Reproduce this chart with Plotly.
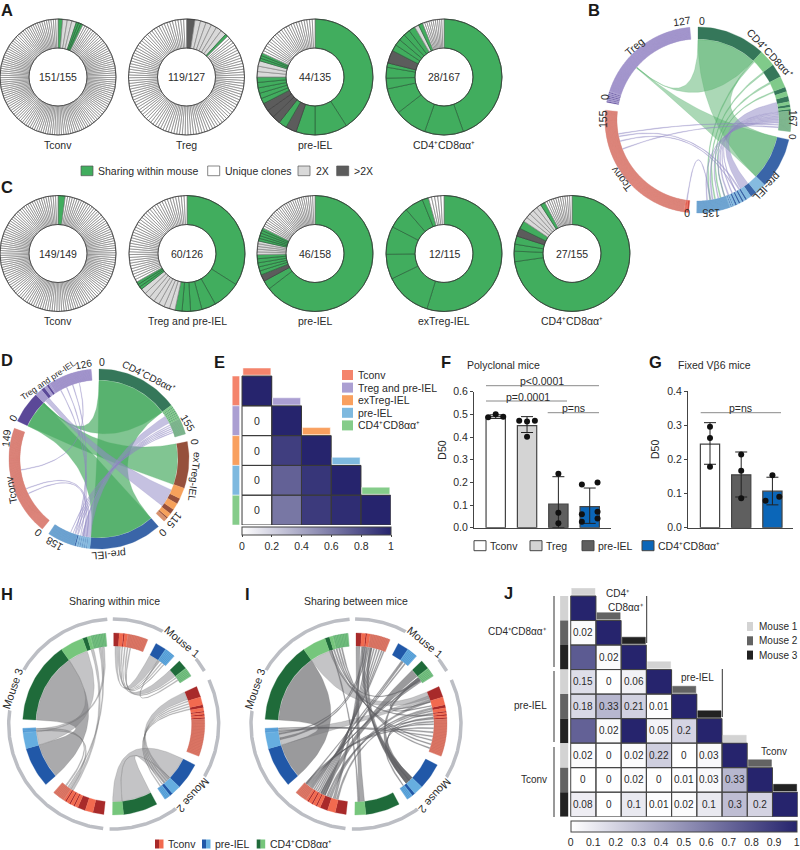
import numpy as np
import plotly.graph_objects as go

W, H = 800, 850
FONT = "Liberation Sans"
TXT = "#2a2a2a"
CD4_LABEL = "CD4⁺CD8αα⁺"

# ---- donuts: (kind, clone size, number of slices)
A_TCONV = [("s", 2, 1), ("x", 2, 3), ("s", 1, 3), ("u", 1, 144)]
A_TREG = [("d", 3, 1), ("x", 2, 6), ("s", 1, 1), ("u", 1, 111)]
A_PREIEL = [("s", 54, 1), ("s", 12, 1), ("s", 7, 1), ("d", 4, 1), ("s", 3, 1), ("d", 3, 3),
            ("s", 2, 5), ("x", 2, 3), ("s", 1, 3), ("u", 1, 24)]
A_CD4 = [("s", 74, 1), ("s", 18, 1), ("s", 15, 1), ("s", 12, 1), ("s", 5, 1), ("s", 5, 1), ("s", 2, 1),
         ("d", 6, 1), ("s", 3, 5), ("x", 2, 1), ("s", 2, 1), ("u", 1, 10)]
C_TCONV = [("s", 3, 1), ("u", 1, 146)]
C_TREG_PRE = [("s", 43, 1), ("s", 10, 1), ("s", 5, 1), ("s", 4, 1), ("s", 3, 1), ("s", 2.5, 1),
              ("x", 2, 7), ("s", 1, 3), ("u", 1, 42)]
C_PREIEL = [("s", 102, 1), ("s", 4, 1), ("d", 3, 1), ("s", 1.8, 5), ("x", 1.2, 5), ("s", 1.2, 5), ("u", 1, 28)]
C_EXTREG = [("s", 63, 1), ("s", 15, 1), ("s", 8, 1), ("s", 9, 1), ("s", 7, 1), ("s", 6, 1), ("s", 2, 1), ("u", 1, 5)]
C_CD4 = [("s", 112, 1), ("s", 4.5, 1), ("s", 3, 1), ("s", 3.5, 1), ("d", 3.5, 1), ("s", 3.5, 1),
         ("x", 2, 5), ("s", 2, 1), ("u", 1, 12)]
DONUT_COLORS = {"s": "#41ad5e", "x": "#d9d9d9", "d": "#5c5c5c", "u": "#ffffff"}
DONUT_LINES = {"s": "#2f6b40", "x": "#8f8f8f", "d": "#444444", "u": "#8c8c8c"}

DONUT_ROW_A = [(A_TCONV, "151/155", "Tconv"), (A_TREG, "119/127", "Treg"),
               (A_PREIEL, "44/135", "pre-IEL"), (A_CD4, "28/167", CD4_LABEL)]
DONUT_ROW_C = [(C_TCONV, "149/149", "Tconv"), (C_TREG_PRE, "60/126", "Treg and pre-IEL"),
               (C_PREIEL, "46/158", "pre-IEL"), (C_EXTREG, "12/115", "exTreg-IEL"), (C_CD4, "27/155", CD4_LABEL)]

# ---- chord B: sectors CD4, pre-IEL, Tconv, Treg
B_SIZES = [167, 135, 155, 127]
B_SEGS = [
    [("d", 74), ("l", 18), ("d", 15), ("l", 12), ("d", 5), ("l", 5), ("d", 6), ("l", 3), ("d", 3), ("l", 2), ("d", 2), ("s", 22)],
    [("d", 55), ("l", 12), ("d", 7), ("l", 5), ("d", 2), ("l", 2), ("d", 2), ("l", 2), ("d", 2), ("l", 2), ("d", 2), ("l", 2),
     ("d", 1), ("l", 1), ("d", 1), ("l", 1), ("s", 36)],
    [("d", 2), ("l", 1), ("d", 1), ("l", 1), ("s", 150)],
    [("d", 1), ("l", 1), ("d", 1), ("l", 1), ("d", 1), ("l", 1), ("d", 1), ("l", 1), ("d", 1), ("l", 1), ("d", 1), ("l", 1), ("s", 115)],
]
B_GREEN = [(0, 0, 74, 1, 0, 55), (0, 0, 74, 3, 50, 1), (3, 50, 1, 1, 0, 55),
           (0, 74, 2, 1, 118, 1.5), (0, 92, 2, 1, 112, 1.5), (0, 107, 2, 1, 105, 1.5), (0, 119, 1.5, 1, 100, 1)]
B_PURPLE = [(0, 133, 12, 1, 68, 11), (0, 145, 1.5, 1, 85, 1), (0, 147, 1.5, 1, 90, 1), (0, 149, 1.5, 1, 95, 1.5),
            (0, 151, 1.5, 1, 100, 1), (0, 153, 1.5, 1, 108, 1), (0, 155, 1.5, 1, 115, 1.5), (0, 157, 1.5, 1, 122, 1),
            (2, 127, 1, 0, 160, 1), (2, 124, 1, 1, 80, 1.5), (2, 118, 1, 1, 85, 1), (2, 108, 1, 0, 163, 1), (2, 3, 1, 1, 118, 1)]

# ---- chord D: sectors CD4, exTreg-IEL, pre-IEL, Tconv, Treg and pre-IEL
D_SIZES = [155, 115, 158, 149, 126]
D_SEGS = [
    [("d", 112), ("l", 3), ("d", 1), ("l", 2), ("d", 1), ("l", 2), ("d", 1), ("l", 2), ("d", 1), ("l", 2), ("d", 1), ("l", 2), ("d", 1), ("l", 2), ("s", 22)],
    [("d", 63), ("l", 15), ("d", 8), ("l", 9), ("d", 7), ("l", 6), ("d", 2), ("s", 5)],
    [("d", 99), ("l", 4), ("d", 1), ("l", 2), ("d", 1), ("l", 2), ("d", 1), ("l", 2), ("d", 1), ("l", 2), ("d", 1), ("l", 2), ("d", 2), ("s", 38)],
    [("s", 149)],
    [("d", 43), ("l", 10), ("d", 5), ("l", 4), ("d", 3), ("l", 2), ("s", 59)],
]
D_GREEN = [(0, 0, 112, 2, 0, 99), (4, 0, 43, 1, 0, 63), (4, 0, 43, 2, 0, 99), (4, 40, 3, 0, 0, 112)]
D_PURPLE = [(4, 47, 7, 1, 72, 28), (0, 120, 12, 2, 100, 12), (0, 135, 1, 2, 112, 1), (0, 138, 1, 2, 118, 1), (0, 141, 1, 2, 122, 1),
            (0, 144, 1, 2, 126, 1), (0, 147, 1, 2, 130, 1), (4, 75, 1, 2, 115, 1), (4, 85, 1, 2, 120, 1), (4, 95, 1, 2, 124, 1),
            (3, 90, 1, 4, 105, 1), (3, 60, 1, 2, 105, 1), (3, 52, 1, 2, 110, 1)]

# ---- chords H and I: Tconv, pre-IEL, CD4 for each of mouse 1, 2, 3
M_SIZES = [22, 14, 12, 45, 29, 29, 35, 39, 82]
M_GAPS = [5.7, 4.5, 7.5, 6, 6, 5.5, 7, 5.7, 5]
M_SEGS = [
    [("d", 3.5), ("l", 2.5), ("d", 1), ("l", 2), ("s", 13)],
    [("d", 7), ("s", 7)],
    [("d", 6), ("s", 6)],
    [("d", 7), ("l", 5), ("d", 2), ("l", 2), ("d", 1), ("l", 1), ("d", 1), ("l", 1), ("d", 1), ("s", 24)],
    [("d", 17), ("l", 6), ("d", 2), ("s", 4)],
    [("d", 22), ("l", 7)],
    [("d", 7), ("l", 5), ("d", 5), ("l", 2), ("d", 1), ("l", 2), ("d", 1), ("l", 2), ("d", 1), ("l", 1), ("s", 8)],
    [("d", 26), ("l", 10), ("s", 3)],
    [("d", 52), ("l", 15), ("d", 3), ("l", 2), ("s", 10)],
]
M_RINGS = [(0, 2), (3, 5), (6, 8)]
H_WIDE = [(8, 0, 52, 7, 0, 26)]
H_LINKS = [(8, 52, 15, 7, 26, 10), (6, 25, 2, 8, 70, 2), (6, 27, 1.5, 7, 36, 1), (6, 29, 1, 8, 76, 1.5),
           (6, 31, 1, 7, 37.5, 1), (8, 78, 2, 7, 36, 2),
           (4, 0, 17, 5, 22, 7), (5, 0, 22, 4, 17, 6), (3, 0, 6, 4, 17, 2), (3, 7, .7, 4, 20, .7), (3, 9, .7, 4, 22, .7),
           (3, 11, .7, 4, 24, .7), (3, 13, .7, 4, 26, .7),
           (1, 0, 7, 0, 1, 2), (2, 0, 6, 0, 3.5, 1.5), (0, 6, .7, 1, 8, .7), (0, 8, .7, 1, 10, .7), (0, 10, .7, 2, 7, .7),
           (0, 12, .7, 1, 12, .7), (1, 7, .8, 2, 9, .8)]
I_WIDE = [(8, 0, 52, 7, 0, 26), (2, 0, 6, 6, 17, 4), (4, 17, 6, 0, 10, 2), (4, 17, 6, 2, 7, 2)]
I_MID = [(8, 52, 15, 3, 0, 5), (7, 26, 10, 3, 3, 3)]
I_THIN = [(6, 17, .8, 0, 9, .8), (6, 18.5, .8, 0, 11, .8), (6, 20, .8, 0, 13, .8), (6, 21.5, .8, 0, 15, .8), (6, 23, .8, 0, 17, .8),
          (6, 24.5, .8, 0, 19, .8), (6, 26, .8, 0, 20.5, .8), (6, 27.5, .8, 1, 9, .8), (6, 28.5, .8, 1, 11, .8), (6, 29.5, .8, 2, 7, .8),
          (6, 30.5, .8, 2, 9, .8), (6, 31.5, .8, 3, 20, .8), (6, 32.5, .8, 3, 24, .8), (6, 33.5, .8, 3, 27, .8), (6, 12, 2, 3, 6, 2),
          (6, 14.5, 1.5, 3, 12, 1.5), (6, 9, 2, 0, 4, 1.5), (6, 7, 1.5, 3, 14, 1), (7, 36, 1.5, 3, 30, 1), (7, 38, .8, 3, 33, .8),
          (8, 67, 2, 3, 17, 1), (8, 72, 1, 3, 36, .8), (8, 74, 1, 3, 39, .8), (8, 76, 1, 3, 42, .8), (3, 16, 1, 4, 19, 1),
          (3, 19, 1, 4, 22, 1), (3, 22, 1, 4, 25, 1), (0, 5, 1.5, 4, 17, 3), (0, 7, 1, 4, 20, 2), (2, 8, 1, 3, 7, 1), (2, 10, 1, 3, 10, 1),
          (5, 22, 4, 0, 0, 3), (5, 26, 1, 8, 68, 1), (0, 8, .8, 7, 30, 1.5), (1, 8, 1, 6, 33, 1), (2, 9, 1, 8, 70, 1), (7, 34, 1, 0, 6, 1)]

# ---- chord palettes: dark, light, stripe fill, stripe line
PAL_CD4 = ("#35775a", "#80ca8a", "#8fc79a", "#6fa883")
PAL_PRE = ("#3a65a8", "#85bbe0", "#7fb3da", "#5f97c7")
PAL_TCONV = ("#d04a42", "#ee6c5a", "#e58f85", "#d27a70")
PAL_TREG = ("#5b4898", "#a79bcf", "#ac9fd3", "#9a8dc4")
PAL_EXTREG = ("#96503c", "#f6a15b", "#e8a27c", "#c9805f")
PAL_M_T = ("#a82a2a", "#f26a4f", "#e07a68", "#c9655a")
PAL_M_P = ("#2158a8", "#66aee0", "#66aee0", "#3f86c6")
PAL_M_C = ("#1f6b3a", "#76c67c", "#7ec886", "#4f9c65")

# ---- bars F and G
F_MEANS = [0.49, 0.45, 0.104, 0.093]
F_ERR_UP = [0.008, 0.04, 0.121, 0.082]
F_ERR_DOWN = [0.008, 0.03, 0.104, 0.074]
F_DOT_X = [-0.24, 0, 0.24, -0.25, 0, 0.25, 0, 0, 0, 0, -0.25, 0.25, -0.25, 0.25, 0.25, -0.25]
F_DOT_Y = [0.487, 0.5, 0.489, 0.472, 0.468, 0.472, 0.401, 0.238, 0.066, 0.02, 0.191, 0.199, 0.059, 0.07, 0.041, 0.026]
F_DOT_GROUP = [0, 0, 0, 1, 1, 1, 1, 2, 2, 2, 3, 3, 3, 3, 3, 3]
G_MEANS = [0.245, 0.155, 0.107]
G_ERR_UP = [0.063, 0.067, 0.041]
G_ERR_DOWN = [0.059, 0.065, 0.04]
G_DOT_X = [0, 0, 0, 1, 1, 1, 2, 1.78, 2.22]
G_DOT_Y = [0.296, 0.263, 0.179, 0.215, 0.167, 0.086, 0.154, 0.079, 0.091]
BAR_COLORS = ["#ffffff", "#d4d4d4", "#5f5f5f", "#0b66b8"]
G_BAR_COLORS = ["#ffffff", "#5f5f5f", "#0b66b8"]

# ---- heatmaps E and J
E_Z = [[1, None, None, None, None],
       [0, 1, None, None, None],
       [0, 0.88, 1, None, None],
       [0, 0.72, 0.92, 1, None],
       [0, 0.62, 0.9, 0.96, 1]]
E_NAMES = ["Tconv", "Treg and pre-IEL", "exTreg-IEL", "pre-IEL", CD4_LABEL]
E_COLORS = ["#f4846c", "#ab9fd2", "#f9a05f", "#7eb9df", "#85cc8a"]
J_Z = [[1, None, None, None, None, None, None, None, None],
       [0.02, 1, None, None, None, None, None, None, None],
       [0.75, 0.02, 1, None, None, None, None, None, None],
       [0.15, 0, 0.06, 1, None, None, None, None, None],
       [0.18, 0.33, 0.21, 0.01, 1, None, None, None, None],
       [0.72, 0.02, 1, 0.05, 0.2, 1, None, None, None],
       [0.02, 0, 0.02, 0.22, 0, 0.03, 1, None, None],
       [0, 0, 0.02, 0, 0.01, 0.03, 0.33, 1, None],
       [0.08, 0, 0.1, 0.01, 0.02, 0.1, 0.3, 0.2, 1]]
MOUSE_COLORS = ["#d3d3d3", "#636363", "#222222"]
HEAT_SCALE = [[0, "#ffffff"], [1, "#26246d"]]

fig = go.Figure()
annotations = []
shapes = []


def txt(x, y, text, size=10.5, angle=0, anchor="center", color=TXT, font=FONT, bg=None, xref="x", yref="y", weight=None):
    annotations.append(dict(x=x, y=y, xref=xref, yref=yref, text=text, showarrow=False, textangle=angle, xanchor=anchor,
                            yanchor="middle", font=dict(size=size, color=color, family=font, weight=weight), bgcolor=bg, borderpad=0))


def rect(x0, y0, x1, y1, fill, line="#444444", width=1, xref="x", yref="y"):
    shapes.append(dict(type="rect", x0=x0, y0=y0, x1=x1, y1=y1, xref=xref, yref=yref, fillcolor=fill,
                       line=dict(color=line, width=width)))


def seg(x0, y0, x1, y1, color="#333333", width=1):
    shapes.append(dict(type="line", x0=x0, x1=x1, y0=y0, y1=y1, xref="x", yref="y", line=dict(color=color, width=width)))


def dom_x(x0, x1):
    return [x0 / W, x1 / W]


def dom_y(y0, y1):
    return [1 - y1 / H, 1 - y0 / H]


def donut(spec, cx, cy, r, centre, label, label_y):
    values, colors, lines = [], [], []
    for kind, size, n in spec:
        values += [size] * n
        colors += [DONUT_COLORS[kind]] * n
        lines += [DONUT_LINES[kind]] * n
    fig.add_trace(go.Pie(values=values, hole=0.5, sort=False, direction="clockwise", rotation=0, textinfo="none",
                         hoverinfo="skip", showlegend=False, marker=dict(colors=colors, line=dict(color=lines, width=0.8)),
                         domain=dict(x=dom_x(cx - r, cx + r), y=dom_y(cy - r, cy + r))))
    for rad in (r, r / 2):
        shapes.append(dict(type="circle", x0=cx - rad, x1=cx + rad, y0=cy - rad, y1=cy + rad, xref="x", yref="y",
                           line=dict(color="#3a3a3a", width=0.8)))
    txt(cx, cy, centre, size=10.5)
    txt(cx, label_y, label, size=10.5)


def polar(cx, cy, r, deg):
    t = np.radians(deg)
    return cx + r * np.sin(t), cy - r * np.cos(t)


class Chord:
    def __init__(self, cx, cy, r_out, r_in, sizes, gaps):
        self.cx, self.cy, self.r_out, self.r_in = cx, cy, r_out, r_in
        self.k = (360 - sum(gaps)) / sum(sizes)
        self.starts = []
        a = 0
        for s, g in zip(sizes, gaps):
            self.starts.append(a)
            a += s * self.k + g
        self.sizes = sizes

    def angle(self, sector, offset):
        return self.starts[sector] + offset * self.k

    def bands(self, segs, palettes):
        groups = {}
        for i, seg_list in enumerate(segs):
            pos = 0
            for kind, size in seg_list:
                pieces = [1] * int(round(size)) if kind == "s" else [size]
                for p in pieces:
                    a0, a1 = self.angle(i, pos), self.angle(i, pos + p)
                    ts = np.linspace(a0, a1, max(2, int((a1 - a0) / 2) + 2))
                    xo, yo = polar(self.cx, self.cy, self.r_out, ts)
                    xi, yi = polar(self.cx, self.cy, self.r_in, ts[::-1])
                    pal = palettes[i]
                    key = {"d": (pal[0], pal[0]), "l": (pal[1], pal[1]), "s": (pal[2], pal[3])}[kind]
                    gx, gy = groups.setdefault(key, ([], []))
                    gx += list(xo) + list(xi) + [xo[0], None]
                    gy += list(yo) + list(yi) + [yo[0], None]
                    pos += p
        for (fill, line), (gx, gy) in groups.items():
            fig.add_trace(go.Scatter(x=gx, y=gy, mode="lines", fill="toself", fillcolor=fill, hoverinfo="skip",
                                     line=dict(color=line, width=0.3), showlegend=False))

    def ribbon(self, link, fill, line):
        a, ao, aw, b, bo, bw = link
        r = self.r_in - 0.5
        a0, a1 = self.angle(a, ao), self.angle(a, ao + aw)
        b0, b1 = self.angle(b, bo), self.angle(b, bo + bw)
        t = np.linspace(0, 1, 40)

        def curve(d0, d1):
            x0, y0 = polar(self.cx, self.cy, r, d0)
            x1, y1 = polar(self.cx, self.cy, r, d1)
            return ((1 - t) ** 2 * x0 + 2 * t * (1 - t) * self.cx + t ** 2 * x1,
                    (1 - t) ** 2 * y0 + 2 * t * (1 - t) * self.cy + t ** 2 * y1)

        ta = np.linspace(a0, a1, max(2, int(a1 - a0) + 2))
        tb = np.linspace(b0, b1, max(2, int(b1 - b0) + 2))
        xa, ya = polar(self.cx, self.cy, r, ta)
        xb, yb = polar(self.cx, self.cy, r, tb)
        c1x, c1y = curve(a1, b0)
        c2x, c2y = curve(b1, a0)
        xs = np.concatenate([xa, c1x, xb, c2x])
        ys = np.concatenate([ya, c1y, yb, c2y])
        fig.add_trace(go.Scatter(x=xs, y=ys, mode="lines", fill="toself", fillcolor=fill, hoverinfo="skip",
                                 line=dict(color=line, width=0.4), showlegend=False))

    def ring(self, spans, radius, color="#bcbec4", width=3.5):
        for s0, s1 in spans:
            a0 = self.angle(s0, 0) - 0.5
            a1 = self.angle(s1, self.sizes[s1]) + 1.5
            ts = np.linspace(a0, a1, 160)
            x, y = polar(self.cx, self.cy, radius, ts)
            fig.add_trace(go.Scatter(x=x, y=y, mode="lines", hoverinfo="skip", showlegend=False,
                                     line=dict(color=color, width=width)))


# ---- canvas axis covering the page, used for chords and labels
GREEN_FILL, GREEN_LINE = "rgba(88,178,110,0.5)", "rgba(88,178,110,0.6)"
GREEN_DEEP = "rgba(70,170,95,0.68)"
PURPLE_FILL, PURPLE_LINE = "rgba(150,142,200,0.55)", "rgba(140,132,190,0.6)"
GREY_FILL, GREY_LINE = "rgba(125,125,128,0.45)", "rgba(110,110,112,0.55)"
GREY_DEEP = "rgba(115,115,118,0.72)"

b = Chord(698, 120, 93, 81, B_SIZES, [5, 5, 5, 5])
b.bands(B_SEGS, [PAL_CD4, PAL_PRE, PAL_TCONV, PAL_TREG])
for link in B_GREEN:
    b.ribbon(link, GREEN_FILL, GREEN_LINE)
for link in B_PURPLE:
    b.ribbon(link, PURPLE_FILL, PURPLE_LINE)

d = Chord(99, 459, 90, 79, D_SIZES, [5, 5, 5, 5, 5])
d.bands(D_SEGS, [PAL_CD4, PAL_EXTREG, PAL_PRE, PAL_TCONV, PAL_TREG])
for link in D_GREEN:
    d.ribbon(link, GREEN_DEEP, GREEN_LINE)
for link in D_PURPLE:
    d.ribbon(link, PURPLE_FILL, PURPLE_LINE)

M_PALS = [PAL_M_T, PAL_M_P, PAL_M_C] * 3
h = Chord(113.7, 724, 91, 78, M_SIZES, M_GAPS)
h.ring(M_RINGS, 105)
h.bands(M_SEGS, M_PALS)
for link in H_WIDE:
    h.ribbon(link, "rgba(125,125,128,0.65)", GREY_LINE)
for link in H_LINKS:
    h.ribbon(link, GREY_FILL, GREY_LINE)

i_c = Chord(356, 724, 91, 78, M_SIZES, M_GAPS)
i_c.ring(M_RINGS, 105)
i_c.bands(M_SEGS, M_PALS)
for link in I_WIDE:
    i_c.ribbon(link, GREY_DEEP, GREY_LINE)
for link in I_MID:
    i_c.ribbon(link, GREY_FILL, GREY_LINE)
for link in I_THIN:
    i_c.ribbon(link, "rgba(95,95,98,0.55)", "rgba(95,95,98,0.6)")

# ---- donuts
for (spec, centre, label), cx in zip(DONUT_ROW_A, [58, 186.5, 315, 444]):
    donut(spec, cx, 77, 58, centre, label, 145)
for (spec, centre, label), cx in zip(DONUT_ROW_C, [58, 187, 315, 444, 572]):
    donut(spec, cx, 253.5, 58, centre, label, 321)

# ---- F and G bars
fig.add_trace(go.Bar(x=list(range(4)), y=F_MEANS, width=0.617, xaxis="x2", yaxis="y2", hoverinfo="skip", showlegend=False,
                     marker=dict(color=BAR_COLORS, line=dict(color="#444444", width=1.2)),
                     error_y=dict(type="data", array=F_ERR_UP, arrayminus=F_ERR_DOWN, color="#222222", thickness=1, width=6)))
fig.add_trace(go.Scatter(x=[g + dx for g, dx in zip(F_DOT_GROUP, F_DOT_X)], y=F_DOT_Y, mode="markers", xaxis="x2", yaxis="y2",
                         hoverinfo="skip", showlegend=False, cliponaxis=False, marker=dict(color="#111111", size=6)))
fig.add_trace(go.Bar(x=list(range(3)), y=G_MEANS, width=0.617, xaxis="x3", yaxis="y3", hoverinfo="skip", showlegend=False,
                     marker=dict(color=G_BAR_COLORS, line=dict(color="#444444", width=1.2)),
                     error_y=dict(type="data", array=G_ERR_UP, arrayminus=G_ERR_DOWN, color="#222222", thickness=1, width=6)))
fig.add_trace(go.Scatter(x=G_DOT_X, y=G_DOT_Y, mode="markers", xaxis="x3", yaxis="y3", hoverinfo="skip", showlegend=False,
                         cliponaxis=False, marker=dict(color="#111111", size=6)))
# significance brackets
for x0, x1, y in [(486, 599, 385.7), (486, 567, 401), (547.7, 599, 412.7), (700.7, 781, 412.7)]:
    seg(x0, y, x1, y, color="#8a8a8a")

# ---- E and J heatmaps
fig.add_trace(go.Heatmap(z=E_Z, x=list(range(5)), y=list(range(5)), xaxis="x4", yaxis="y4", colorscale=HEAT_SCALE, zmin=0, zmax=1,
                         hoverinfo="skip",
                         colorbar=dict(orientation="h", x=242 / W, xanchor="left", y=1 - 527 / H, yanchor="top", len=148.7, lenmode="pixels",
                                       thickness=8, thicknessmode="pixels", xpad=0, ypad=0, tickvals=[0, 0.2, 0.4, 0.6, 0.8, 1],
                                       ticktext=["0", "0.2", "0.4", "0.6", "0.8", "1"], ticks="outside", ticklen=2, outlinecolor="#444444",
                                       outlinewidth=1, tickfont=dict(size=10.5, color=TXT, family=FONT))))
fig.add_trace(go.Heatmap(z=J_Z, x=list(range(9)), y=list(range(9)), xaxis="x5", yaxis="y5", colorscale=HEAT_SCALE, zmin=0, zmax=1,
                         hoverinfo="skip",
                         colorbar=dict(orientation="h", x=570.7 / W, xanchor="left", y=1 - 821 / H, yanchor="top", len=226, lenmode="pixels",
                                       thickness=11, thicknessmode="pixels", xpad=0, ypad=0, tickvals=[i / 10 for i in range(11)],
                                       ticktext=[f"{i / 10:g}" for i in range(11)], ticks="", outlinecolor="#444444", outlinewidth=1,
                                       tickfont=dict(size=10.5, color=TXT, family=FONT))))

for i, row in enumerate(E_Z):
    rect(-0.83, i - 0.5, -0.58, i + 0.5, E_COLORS[i], line="#ffffff", width=0.5, xref="x4", yref="y4")
    rect(i - 0.47, i - 0.77, i + 0.47, i - 0.53, E_COLORS[i], line="#ffffff", width=0.5, xref="x4", yref="y4")
    for j, v in enumerate(row):
        if v is not None:
            rect(j - 0.5, i - 0.5, j + 0.5, i + 0.5, "rgba(0,0,0,0)", line="#3a3a3a", width=1, xref="x4", yref="y4")
        if v == 0:
            txt(j, i, "0", xref="x4", yref="y4")
for i, row in enumerate(J_Z):
    c = MOUSE_COLORS[i % 3]
    rect(-0.92, i - 0.5, -0.6, i + 0.5, c, line=c, width=0, xref="x5", yref="y5")
    rect(i - 0.46, i - 0.82, i + 0.46, i - 0.55, c, line=c, width=0.5, xref="x5", yref="y5")
    for j, v in enumerate(row):
        if v is not None:
            rect(j - 0.5, i - 0.5, j + 0.5, i + 0.5, "rgba(0,0,0,0)", line="#444444", width=1, xref="x5", yref="y5")
        if v is not None and v < 0.5:
            txt(j, i, f"{v:g}", size=10, xref="x5", yref="y5")

# ---- legends and labels
for x0, c, label, tx in [(81, DONUT_COLORS["s"], "Sharing within mouse", 97), (207.7, "#ffffff", "Unique clones", 224),
                         (298, DONUT_COLORS["x"], "2X", 315), (336.7, DONUT_COLORS["d"], ">2X", 353)]:
    rect(x0, 166, x0 + 12, 175.7, c, line="#555555", width=0.7)
    txt(tx, 171, label, anchor="left")
for k, (name, c) in enumerate(zip(E_NAMES, E_COLORS)):
    y = 375 + k * 12.6
    rect(342, y - 5, 353, y + 5, c, line=c, width=0)
    txt(356.7, y, name, anchor="left", size=10.5)
for x0, c, label, tx in [(474, BAR_COLORS[0], "Tconv", 489), (530, BAR_COLORS[1], "Treg", 545),
                         (582, BAR_COLORS[2], "pre-IEL", 597), (642, BAR_COLORS[3], CD4_LABEL, 657)]:
    rect(x0, 540.7, x0 + 12, 550.7, c, line="#444444", width=1)
    txt(tx, 546, label, anchor="left")
for x0, pal, label, tx in [(155, PAL_M_T, "Tconv", 167), (202, PAL_M_P, "pre-IEL", 214), (256.7, PAL_M_C, CD4_LABEL, 269)]:
    rect(x0, 839.5, x0 + 4, 848.5, pal[0], line=pal[0], width=0)
    rect(x0 + 4, 839.5, x0 + 8.5, 848.5, pal[1], line=pal[1], width=0)
    txt(tx, 844, label, anchor="left")
for k, name in enumerate(["Mouse 1", "Mouse 2", "Mouse 3"]):
    y = 626.5 + k * 14.3
    rect(747, y - 4.5, 753, y + 4.5, MOUSE_COLORS[k], line=MOUSE_COLORS[k], width=0)
    txt(757.7, y, name, anchor="left", size=10)
for y0, y1 in [(596, 667), (671, 742), (747, 817)]:
    seg(554, y0, 554, y1)
seg(646.7, 596, 646.7, 643)
seg(722.3, 669, 722.3, 717)
txt(548, 631, CD4_LABEL, anchor="right", size=10)
txt(548, 705, "pre-IEL", anchor="right", size=10)
txt(548, 779, "Tconv", anchor="right", size=10)
txt(618, 593, "CD4⁺", size=10)
txt(626, 607, "CD8αα⁺", size=10)
txt(697, 677, "pre-IEL", size=10)
txt(774, 751, "Tconv", size=10)

for ltr, x, y in [("A", 7, 10), ("B", 594, 10), ("C", 7, 187), ("D", 7, 360), ("E", 219, 362), ("F", 446, 362), ("G", 655, 362),
                  ("H", 7, 594), ("I", 247, 594), ("J", 508, 593)]:
    txt(x, y, ltr, size=16.5, color="#1a1a1a", weight=700)

txt(466, 365, "Polyclonal mice", anchor="left")
txt(677, 365, "Fixed Vβ6 mice", anchor="left")
txt(114, 601, "Sharing within mice", size=10.5)
txt(356, 601, "Sharing between mice", size=10.5)
txt(441.7, 450, "D50", angle=-90)
txt(655, 450, "D50", angle=-90)
txt(541.7, 381, "p&lt;0.0001")
txt(527.7, 396.5, "p=0.0001")
txt(573, 408, "p=ns")
txt(740.7, 408, "p=ns")

# chord labels: text, x, y, rotation, size
CHORD_LABELS = [("Treg", 634, 47, -41, 10.5), (CD4_LABEL, 770, 53, 47, 10.5), ("pre-IEL", 767, 187, 134, 10.5), ("Tconv", 621, 179, 233, 10.5),
                ("127", 682, 21, -8, 10.5), ("0", 702, 21, 0, 10.5), ("167", 793, 118, 90, 10), ("0", 793, 137, 95, 10), ("0", 687, 213, 180, 10.5),
                ("135", 711, 213, 180, 10.5), ("155", 603, 119, -90, 10.5), ("0", 605, 97, -90, 10.5),
                ("Treg and pre-IEL", 48, 380, -34, 8.5), ("126", 83, 364, -12, 10), ("0", 13, 418, -60, 10.5), ("0", 102, 362, 0, 10.5),
                (CD4_LABEL, 149, 376, 27, 10), ("155", 188, 423, 60, 10.5), ("149", 6, 438, -85, 10.5), ("Tconv", 11, 490, -100, 10.5),
                ("exTreg-IEL", 195, 477, 97, 10), ("0", 195, 442, 85, 10.5), ("115", 175, 520, 130, 10.5), ("0", 163, 533, 135, 10.5),
                ("pre-IEL", 109, 555, 175, 10.5), ("158", 54, 544, 210, 10.5), ("0", 38, 533, 220, 10.5)]
for label, x, y, ang, sz in CHORD_LABELS:
    txt(x, y, label, angle=ang, size=sz)
for cx in (113.7, 356):
    for label, th, ang in [("Mouse 1", 40, 40), ("Mouse 2", 132, 132), ("Mouse 3", 289, -71)]:
        x, y = polar(cx, 724, 107, th)
        txt(float(x), float(y), label, angle=ang, size=11, bg="#ffffff")

hidden = dict(visible=False, fixedrange=True)
fig.update_layout(
    width=W, height=H, margin=dict(l=0, r=0, t=0, b=0, autoexpand=False), paper_bgcolor="#ffffff", plot_bgcolor="rgba(0,0,0,0)",
    showlegend=False, font=dict(family=FONT, color=TXT), annotations=annotations, shapes=shapes, barmode="overlay",
    xaxis=dict(range=[0, W], domain=[0, 1], anchor="y", **hidden),
    yaxis=dict(range=[H, 0], domain=[0, 1], anchor="x", **hidden),
    xaxis2=dict(range=[-0.693, 3.67], domain=dom_x(474, 610.7), anchor="y2", showticklabels=False, ticks="", showgrid=False,
                zeroline=False, showline=True, linecolor="#444444", linewidth=1),
    yaxis2=dict(range=[0, 0.6], domain=dom_y(391.7, 527.7), anchor="x2", dtick=0.1, tickformat=".1f", ticks="outside", ticklen=3,
                showgrid=False, zeroline=False, showline=True, linecolor="#444444", linewidth=1, tickfont=dict(size=10.5, color=TXT)),
    xaxis3=dict(range=[-0.705, 2.66], domain=dom_x(688, 793), anchor="y3", showticklabels=False, ticks="", showgrid=False,
                zeroline=False, showline=True, linecolor="#444444", linewidth=1),
    yaxis3=dict(range=[0, 0.4], domain=dom_y(391.3, 527.7), anchor="x3", dtick=0.1, tickformat=".1f", ticks="outside", ticklen=3,
                showgrid=False, zeroline=False, showline=True, linecolor="#444444", linewidth=1, tickfont=dict(size=10.5, color=TXT)),
    xaxis4=dict(range=[-0.837, 4.5], domain=dom_x(232, 390.7), anchor="y4", **hidden),
    yaxis4=dict(range=[4.5, -0.77], domain=dom_y(368, 525), anchor="x4", **hidden),
    xaxis5=dict(range=[-0.925, 8.5], domain=dom_x(560, 797.7), anchor="y5", **hidden),
    yaxis5=dict(range=[8.5, -0.826], domain=dom_y(588, 816.7), anchor="x5", **hidden),
)

# the browser's default 8px body margin would push the page out of the window
fig.write_html("out.html", config={"displayModeBar": False}, post_script="document.body.style.margin='0';")
